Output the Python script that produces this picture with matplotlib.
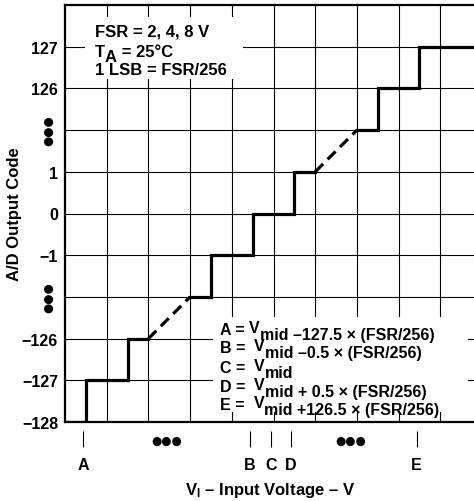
import matplotlib
matplotlib.use('Agg')
import matplotlib.pyplot as plt
from matplotlib.patches import Rectangle

plt.rcParams['font.family'] = ['Liberation Sans', 'DejaVu Sans']
plt.rcParams['font.weight'] = 'bold'
plt.rcParams['axes.labelweight'] = 'bold'
plt.rcParams['mathtext.fontset'] = 'custom'
plt.rcParams['mathtext.rm'] = 'Liberation Sans:bold'
plt.rcParams['mathtext.bf'] = 'Liberation Sans:bold'
plt.rcParams['mathtext.it'] = 'Liberation Sans:bold'

# output code rows, bottom to top (blank rows are the skipped codes)
code_labels = ['−128', '−127', '−126', '', '−1', '0', '1', '', '126', '127']
skip_rows = [3, 7]

# transfer curve: x in grid columns of input voltage, y in code rows
step_x = [[0, 0.5, 0.5, 1.5, 1.5, 2.0],
          [3.0, 3.5, 3.5, 4.5, 4.5, 5.5, 5.5, 6.0],
          [7.0, 7.5, 7.5, 8.5, 8.5, 9.9]]
step_y = [[0, 0, 1, 1, 2, 2],
          [3, 3, 4, 4, 5, 5, 6, 6],
          [7, 7, 8, 8, 9, 9]]
gap_x = [[2.0, 3.0], [6.0, 7.0]]
gap_y = [[2, 3], [6, 7]]

# marked input voltages on the x axis
volt_names = ['A', 'B', 'C', 'D', 'E']
volt_pos = [0.43, 4.43, 4.95, 5.42, 8.43]
skip_cols = [2.45, 6.85]

# notes
top_note = ['FSR = 2, 4, 8 V', None, '1 LSB = FSR/256']
eq_names = ['A = ', 'B =  ', 'C =  ', 'D =  ', 'E =  ']
eq_rest = [' –127.5 × (FSR/256)', ' –0.5 × (FSR/256)', '', ' + 0.5 × (FSR/256)', ' +126.5 × (FSR/256)']

fig = plt.figure(figsize=(4.74, 5.02), dpi=100)
ax = fig.add_axes([65 / 474, 1 - 423 / 502, 409 / 474, 417 / 502])
ax.set_xlim(0, 409 / 41.7)
ax.set_ylim(0, 10)
ax.set_axisbelow(True)

for s in ['left', 'bottom', 'top']:
    ax.spines[s].set_linewidth(1.6)
ax.spines['right'].set_visible(False)

# grid
ax.set_xticks(range(1, 10), minor=True)
ax.set_yticks(range(10))
ax.set_yticklabels(code_labels)
ax.xaxis.grid(True, which='minor', color='black', linewidth=0.8)
ax.yaxis.grid(True, which='major', color='black', linewidth=0.8)
ax.tick_params(axis='y', length=0, pad=5, labelsize=11.5)
ax.tick_params(axis='x', which='both', length=0)

ax.set_xticks(volt_pos)
ax.set_xticklabels(volt_names)
ax.tick_params(axis='x', pad=25, labelsize=11.5)
ax.plot(volt_pos, [-0.041] * len(volt_pos), linestyle='none', marker='|',
        markersize=11.5, markeredgewidth=0.8, color='black',
        transform=ax.get_xaxis_transform(), clip_on=False)

for r in skip_rows:
    ax.text(-0.039, r, '●●●', rotation=90, ha='center', va='center', fontsize=8.5,
            family='DejaVu Sans', transform=ax.get_yaxis_transform())
for c in skip_cols:
    ax.text(c, -0.043, '●●●', ha='center', va='center', fontsize=8.5,
            family='DejaVu Sans', transform=ax.get_xaxis_transform())

# staircase
for xs, ys in zip(step_x, step_y):
    ax.plot(xs, ys, color='black', linewidth=2.3, zorder=3, solid_joinstyle='miter')
for xs, ys in zip(gap_x, gap_y):
    ax.plot(xs, ys, color='black', linewidth=2.3, zorder=3, linestyle=(0, (3.5, 2)))

# white panels behind notes
ax.add_patch(Rectangle((0.049, 0.823), 0.386, 0.148, transform=ax.transAxes,
                       facecolor='white', edgecolor='none', zorder=1))
ax.add_patch(Rectangle((0.362, 0.024), 0.623, 0.228, transform=ax.transAxes,
                       facecolor='white', edgecolor='none', zorder=1))


def chain(x, y, parts, size):
    prev = ax.text(x, y, parts[0][0], transform=ax.transAxes, fontsize=size,
                   va='baseline', zorder=4)
    base = 0
    for txt, dy in parts[1:]:
        prev = ax.annotate(txt, xy=(1, 0), xycoords=prev, xytext=(0, dy - base),
                           textcoords='offset points', va='bottom', fontsize=size, zorder=4)
        base = dy


top_y = [0.926, 0.878, 0.835]
chain(0.073, top_y[0], [(top_note[0], 0)], 12)
chain(0.073, top_y[1], [('T', 0), ('A', -3.5), (' = 25°C', 0)], 12)
chain(0.073, top_y[2], [(top_note[2], 0)], 12)

eq_y = [0.211, 0.168, 0.120, 0.074, 0.031]
for name, rest, yy in zip(eq_names, eq_rest, eq_y):
    chain(0.379, yy, [(name, 0), ('V', 1.5), ('mid' + rest, -3.5)], 11.5)

ax.set_ylabel('A/D Output Code', fontsize=12, fontweight='bold')
ax.yaxis.set_label_coords(-43 / 409, 0.5)
fig.text(270 / 474, 1 - 495 / 502, r'V$_{\mathbf{I}}$ – Input Voltage – V',
         ha='center', va='baseline', fontsize=12, fontweight='bold')

fig.savefig('out.png', dpi=100)
